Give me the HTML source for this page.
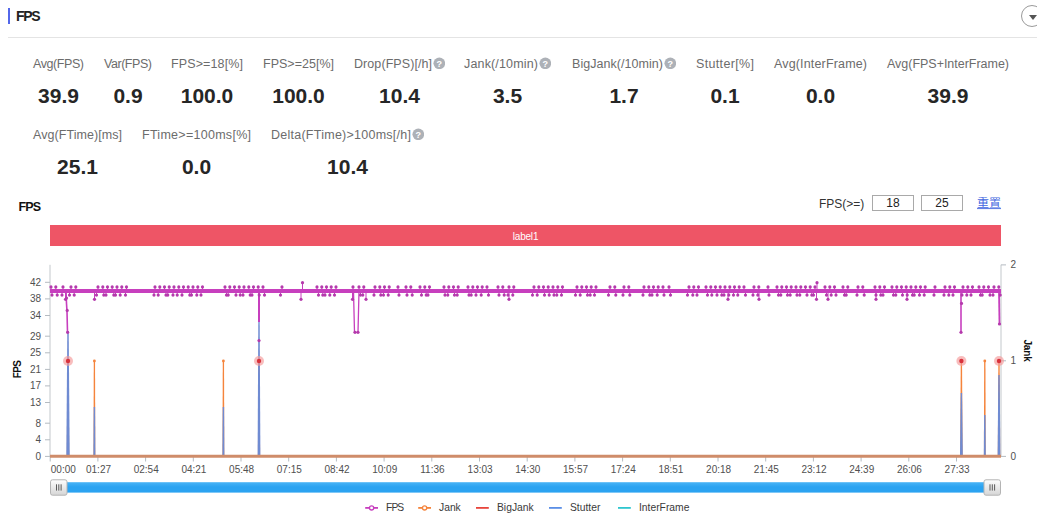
<!DOCTYPE html>
<html lang="zh-CN">
<head>
<meta charset="utf-8">
<title>FPS</title>
<style>
html,body{margin:0;padding:0;background:#fff;}
body{width:1037px;height:515px;position:relative;overflow:hidden;
 font-family:"Liberation Sans","Noto Sans CJK SC",sans-serif;color:#333;}
.bar{position:absolute;left:8px;top:8px;width:2px;height:16px;background:#5367ea;}
.h1{position:absolute;left:16px;top:7px;font-size:14px;font-weight:700;color:#222;line-height:18px;letter-spacing:-1.3px;}
.hr{position:absolute;left:8px;top:37px;width:1029px;height:1px;background:#e4e4e4;}
.btn{position:absolute;left:1021px;top:5px;width:20px;height:20px;border:1px solid #9a9a9a;border-radius:50%;background:#fff;box-sizing:content-box;}
.btn:after{content:"";position:absolute;left:6.5px;top:8.5px;border-left:4px solid transparent;border-right:4px solid transparent;border-top:5px solid #555;}
.lb{position:absolute;font-size:12.5px;line-height:18px;color:#6c6c6c;white-space:nowrap;}
.qi{position:absolute;width:12px;height:12px;line-height:0;}
.vl{position:absolute;font-size:21px;line-height:26px;font-weight:700;color:#262626;text-align:center;white-space:nowrap;}
.ct{position:absolute;left:18.6px;top:198.8px;font-size:12.5px;line-height:16px;font-weight:700;color:#111;letter-spacing:-0.9px;}
.th{position:absolute;left:819px;top:196px;font-size:12px;line-height:16px;color:#333;}
.in{position:absolute;top:195px;width:40px;height:14px;border:1px solid #a9a9a9;font-size:12px;line-height:15.6px;text-align:center;color:#222;background:#fff;overflow:hidden;}
.rs{position:absolute;left:977px;top:195px;font-size:12px;line-height:16px;color:#4468e0;text-decoration:underline;transform:scaleY(0.9);transform-origin:0 92%;}
.lab{position:absolute;left:50px;top:225px;width:951px;height:21px;background:#ee5566;color:#fff;font-size:10px;line-height:23.6px;letter-spacing:-0.2px;text-align:center;overflow:hidden;}
svg.chart{position:absolute;left:0;top:0;}
.ax{font-size:10px;fill:#505050;font-family:"Liberation Sans",sans-serif;}
.lg{font-size:10.3px;fill:#3a3a3a;font-family:"Liberation Sans",sans-serif;}
.ttl{font-size:10px;font-weight:700;fill:#111;font-family:"Liberation Sans",sans-serif;}
</style>
</head>
<body>
<div class="bar"></div>
<div class="h1">FPS</div>
<div class="btn"></div>
<div class="hr"></div>
<div class="lb" style="left:33px;top:55px;letter-spacing:-0.422px">Avg(FPS)</div>
<div class="vl" style="left:33px;width:51px;top:83px">39.9</div>
<div class="lb" style="left:104px;top:55px;letter-spacing:-0.453px">Var(FPS)</div>
<div class="vl" style="left:104px;width:48px;top:83px">0.9</div>
<div class="lb" style="left:171px;top:55px;letter-spacing:0.125px">FPS&gt;=18[%]</div>
<div class="vl" style="left:171px;width:72px;top:83px">100.0</div>
<div class="lb" style="left:263px;top:55px;letter-spacing:0.014px">FPS&gt;=25[%]</div>
<div class="vl" style="left:263px;width:71px;top:83px">100.0</div>
<div class="lb" style="left:354px;top:55px;letter-spacing:0.074px">Drop(FPS)[/h]</div>
<div class="qi" style="left:432.8px;top:56.8px"><svg class="q" viewBox="0 0 14 14" width="12.6" height="12.6"><circle cx="7" cy="7" r="6.5" fill="#adb1b7"/><text x="7" y="10.6" text-anchor="middle" font-size="10" font-weight="700" fill="#fff" font-family="Liberation Sans, sans-serif">?</text></svg></div>
<div class="vl" style="left:354px;width:91px;top:83px">10.4</div>
<div class="lb" style="left:464px;top:55px;letter-spacing:0.159px">Jank(/10min)</div>
<div class="qi" style="left:538.8px;top:56.8px"><svg class="q" viewBox="0 0 14 14" width="12.6" height="12.6"><circle cx="7" cy="7" r="6.5" fill="#adb1b7"/><text x="7" y="10.6" text-anchor="middle" font-size="10" font-weight="700" fill="#fff" font-family="Liberation Sans, sans-serif">?</text></svg></div>
<div class="vl" style="left:464px;width:87px;top:83px">3.5</div>
<div class="lb" style="left:572px;top:55px;letter-spacing:0.048px">BigJank(/10min)</div>
<div class="qi" style="left:663.8px;top:56.8px"><svg class="q" viewBox="0 0 14 14" width="12.6" height="12.6"><circle cx="7" cy="7" r="6.5" fill="#adb1b7"/><text x="7" y="10.6" text-anchor="middle" font-size="10" font-weight="700" fill="#fff" font-family="Liberation Sans, sans-serif">?</text></svg></div>
<div class="vl" style="left:572px;width:104px;top:83px">1.7</div>
<div class="lb" style="left:696px;top:55px;letter-spacing:0.345px">Stutter[%]</div>
<div class="vl" style="left:696px;width:58px;top:83px">0.1</div>
<div class="lb" style="left:774px;top:55px;letter-spacing:0.16px">Avg(InterFrame)</div>
<div class="vl" style="left:774px;width:93px;top:83px">0.0</div>
<div class="lb" style="left:887px;top:55px;letter-spacing:-0.022px">Avg(FPS+InterFrame)</div>
<div class="vl" style="left:887px;width:122px;top:83px">39.9</div>
<div class="lb" style="left:33px;top:126px;letter-spacing:0.061px">Avg(FTime)[ms]</div>
<div class="vl" style="left:33px;width:89px;top:154px">25.1</div>
<div class="lb" style="left:142px;top:126px;letter-spacing:0.276px">FTime&gt;=100ms[%]</div>
<div class="vl" style="left:142px;width:109px;top:154px">0.0</div>
<div class="lb" style="left:271px;top:126px;letter-spacing:0.254px">Delta(FTime)&gt;100ms[/h]</div>
<div class="qi" style="left:411.8px;top:127.8px"><svg class="q" viewBox="0 0 14 14" width="12.6" height="12.6"><circle cx="7" cy="7" r="6.5" fill="#adb1b7"/><text x="7" y="10.6" text-anchor="middle" font-size="10" font-weight="700" fill="#fff" font-family="Liberation Sans, sans-serif">?</text></svg></div>
<div class="vl" style="left:271px;width:153px;top:154px">10.4</div>
<div class="ct">FPS</div>
<div class="th">FPS(&gt;=)</div>
<div class="in" style="left:872px">18</div>
<div class="in" style="left:921px">25</div>
<div class="rs">重置</div>
<div class="lab">label1</div>
<svg class="chart" width="1037" height="515" viewBox="0 0 1037 515">
<defs><linearGradient id="sg" x1="0" y1="0" x2="0" y2="1"><stop offset="0" stop-color="#4ab4f6"/><stop offset="0.45" stop-color="#2ba3f1"/><stop offset="1" stop-color="#2ba3f1"/></linearGradient><linearGradient id="gg" x1="0" y1="0" x2="0" y2="1"><stop offset="0" stop-color="#fdfdfd"/><stop offset="1" stop-color="#d6d6d6"/></linearGradient></defs>
<line x1="50.0" y1="264.8" x2="50.0" y2="456.5" stroke="#c3c8cc" stroke-width="1"/>
<line x1="1001.0" y1="264.8" x2="1001.0" y2="456.5" stroke="#c3c8cc" stroke-width="1"/>
<line x1="50.0" y1="456.5" x2="1001.0" y2="456.5" stroke="#c3c8cc" stroke-width="1"/>
<line x1="45.0" y1="282.3" x2="50.0" y2="282.3" stroke="#b4bbc1" stroke-width="1"/>
<text x="41" y="285.7" text-anchor="end" class="ax">42</text>
<line x1="45.0" y1="298.9" x2="50.0" y2="298.9" stroke="#b4bbc1" stroke-width="1"/>
<text x="41" y="302.3" text-anchor="end" class="ax">38</text>
<line x1="45.0" y1="315.5" x2="50.0" y2="315.5" stroke="#b4bbc1" stroke-width="1"/>
<text x="41" y="318.9" text-anchor="end" class="ax">34</text>
<line x1="45.0" y1="336.2" x2="50.0" y2="336.2" stroke="#b4bbc1" stroke-width="1"/>
<text x="41" y="339.6" text-anchor="end" class="ax">29</text>
<line x1="45.0" y1="352.8" x2="50.0" y2="352.8" stroke="#b4bbc1" stroke-width="1"/>
<text x="41" y="356.2" text-anchor="end" class="ax">25</text>
<line x1="45.0" y1="369.4" x2="50.0" y2="369.4" stroke="#b4bbc1" stroke-width="1"/>
<text x="41" y="372.8" text-anchor="end" class="ax">21</text>
<line x1="45.0" y1="385.9" x2="50.0" y2="385.9" stroke="#b4bbc1" stroke-width="1"/>
<text x="41" y="389.3" text-anchor="end" class="ax">17</text>
<line x1="45.0" y1="402.5" x2="50.0" y2="402.5" stroke="#b4bbc1" stroke-width="1"/>
<text x="41" y="405.9" text-anchor="end" class="ax">13</text>
<line x1="45.0" y1="423.2" x2="50.0" y2="423.2" stroke="#b4bbc1" stroke-width="1"/>
<text x="41" y="426.6" text-anchor="end" class="ax">8</text>
<line x1="45.0" y1="439.8" x2="50.0" y2="439.8" stroke="#b4bbc1" stroke-width="1"/>
<text x="41" y="443.2" text-anchor="end" class="ax">4</text>
<line x1="45.0" y1="456.4" x2="50.0" y2="456.4" stroke="#b4bbc1" stroke-width="1"/>
<text x="41" y="459.8" text-anchor="end" class="ax">0</text>
<line x1="1001.0" y1="264.9" x2="1006.0" y2="264.9" stroke="#b4bbc1" stroke-width="1"/>
<text x="1010.5" y="268.3" class="ax">2</text>
<line x1="1001.0" y1="360.79999999999995" x2="1006.0" y2="360.79999999999995" stroke="#b4bbc1" stroke-width="1"/>
<text x="1010.5" y="364.2" class="ax">1</text>
<line x1="1001.0" y1="456.4" x2="1006.0" y2="456.4" stroke="#b4bbc1" stroke-width="1"/>
<text x="1010.5" y="459.8" class="ax">0</text>
<line x1="50.2" y1="456.5" x2="50.2" y2="461.5" stroke="#b4bbc1" stroke-width="1"/>
<text x="50.8" y="473.0" class="ax">00:00</text>
<line x1="97.9" y1="456.5" x2="97.9" y2="461.5" stroke="#b4bbc1" stroke-width="1"/>
<text x="98.5" y="473.0" text-anchor="middle" class="ax">01:27</text>
<line x1="145.6" y1="456.5" x2="145.6" y2="461.5" stroke="#b4bbc1" stroke-width="1"/>
<text x="146.2" y="473.0" text-anchor="middle" class="ax">02:54</text>
<line x1="193.3" y1="456.5" x2="193.3" y2="461.5" stroke="#b4bbc1" stroke-width="1"/>
<text x="193.9" y="473.0" text-anchor="middle" class="ax">04:21</text>
<line x1="241.0" y1="456.5" x2="241.0" y2="461.5" stroke="#b4bbc1" stroke-width="1"/>
<text x="241.6" y="473.0" text-anchor="middle" class="ax">05:48</text>
<line x1="288.7" y1="456.5" x2="288.7" y2="461.5" stroke="#b4bbc1" stroke-width="1"/>
<text x="289.3" y="473.0" text-anchor="middle" class="ax">07:15</text>
<line x1="336.4" y1="456.5" x2="336.4" y2="461.5" stroke="#b4bbc1" stroke-width="1"/>
<text x="337.0" y="473.0" text-anchor="middle" class="ax">08:42</text>
<line x1="384.1" y1="456.5" x2="384.1" y2="461.5" stroke="#b4bbc1" stroke-width="1"/>
<text x="384.7" y="473.0" text-anchor="middle" class="ax">10:09</text>
<line x1="431.8" y1="456.5" x2="431.8" y2="461.5" stroke="#b4bbc1" stroke-width="1"/>
<text x="432.4" y="473.0" text-anchor="middle" class="ax">11:36</text>
<line x1="479.5" y1="456.5" x2="479.5" y2="461.5" stroke="#b4bbc1" stroke-width="1"/>
<text x="480.1" y="473.0" text-anchor="middle" class="ax">13:03</text>
<line x1="527.2" y1="456.5" x2="527.2" y2="461.5" stroke="#b4bbc1" stroke-width="1"/>
<text x="527.8" y="473.0" text-anchor="middle" class="ax">14:30</text>
<line x1="574.9" y1="456.5" x2="574.9" y2="461.5" stroke="#b4bbc1" stroke-width="1"/>
<text x="575.5" y="473.0" text-anchor="middle" class="ax">15:57</text>
<line x1="622.6" y1="456.5" x2="622.6" y2="461.5" stroke="#b4bbc1" stroke-width="1"/>
<text x="623.2" y="473.0" text-anchor="middle" class="ax">17:24</text>
<line x1="670.3" y1="456.5" x2="670.3" y2="461.5" stroke="#b4bbc1" stroke-width="1"/>
<text x="670.9" y="473.0" text-anchor="middle" class="ax">18:51</text>
<line x1="718.0" y1="456.5" x2="718.0" y2="461.5" stroke="#b4bbc1" stroke-width="1"/>
<text x="718.6" y="473.0" text-anchor="middle" class="ax">20:18</text>
<line x1="765.7" y1="456.5" x2="765.7" y2="461.5" stroke="#b4bbc1" stroke-width="1"/>
<text x="766.3" y="473.0" text-anchor="middle" class="ax">21:45</text>
<line x1="813.4" y1="456.5" x2="813.4" y2="461.5" stroke="#b4bbc1" stroke-width="1"/>
<text x="814.0" y="473.0" text-anchor="middle" class="ax">23:12</text>
<line x1="861.1" y1="456.5" x2="861.1" y2="461.5" stroke="#b4bbc1" stroke-width="1"/>
<text x="861.7" y="473.0" text-anchor="middle" class="ax">24:39</text>
<line x1="908.8" y1="456.5" x2="908.8" y2="461.5" stroke="#b4bbc1" stroke-width="1"/>
<text x="909.4" y="473.0" text-anchor="middle" class="ax">26:06</text>
<line x1="956.5" y1="456.5" x2="956.5" y2="461.5" stroke="#b4bbc1" stroke-width="1"/>
<text x="957.1" y="473.0" text-anchor="middle" class="ax">27:33</text>
<text transform="translate(21,369.5) rotate(-90)" text-anchor="middle" class="ttl" letter-spacing="-0.6">FPS</text>
<text transform="translate(1024,350.5) rotate(90)" text-anchor="middle" class="ttl" letter-spacing="-0.2">Jank</text>
<polygon points="67.35,361.0 68.65,361.0 69.20,456.0 66.80,456.0" fill="#f5843c"/>
<polygon points="93.75,361.0 95.05,361.0 95.30,456.0 93.50,456.0" fill="#f5843c"/>
<polygon points="222.75,361.0 224.05,361.0 224.30,456.0 222.50,456.0" fill="#f5843c"/>
<polygon points="258.35,361.0 259.65,361.0 260.10,456.0 257.90,456.0" fill="#f5843c"/>
<polygon points="960.75,361.0 962.05,361.0 962.60,456.0 960.20,456.0" fill="#f5843c"/>
<polygon points="984.15,361.0 985.45,361.0 985.70,456.0 983.90,456.0" fill="#f5843c"/>
<polygon points="998.35,361.0 999.65,361.0 1000.20,456.0 997.80,456.0" fill="#f5843c"/>
<polygon points="67.30,331 68.70,331 69.70,456.0 66.30,456.0" fill="#6f8bd2"/>
<polygon points="93.70,407 95.10,407 95.40,456.0 93.40,456.0" fill="#6f8bd2"/>
<polygon points="222.70,407 224.10,407 224.40,456.0 222.40,456.0" fill="#6f8bd2"/>
<polygon points="258.30,322 259.70,322 260.40,456.0 257.60,456.0" fill="#6f8bd2"/>
<polygon points="960.70,393 962.10,393 962.80,456.0 960.00,456.0" fill="#6f8bd2"/>
<polygon points="984.10,415 985.50,415 985.80,456.0 983.80,456.0" fill="#6f8bd2"/>
<polygon points="998.30,375 999.70,375 1000.40,456.0 997.60,456.0" fill="#6f8bd2"/>
<line x1="50.0" y1="456.2" x2="1001.0" y2="456.2" stroke="#cf8c6a" stroke-width="3"/>
<line x1="50.0" y1="291.0" x2="1001.0" y2="291.0" stroke="#c73fbe" stroke-width="4.2"/>
<line x1="51.0" y1="291.0" x2="51.0" y2="286.9" stroke="#c73fbe" stroke-width="1"/>
<line x1="52.0" y1="291.0" x2="52.0" y2="295.1" stroke="#c73fbe" stroke-width="1"/>
<line x1="55.8" y1="291.0" x2="55.8" y2="286.9" stroke="#c73fbe" stroke-width="1"/>
<line x1="57.2" y1="291.0" x2="57.2" y2="295.1" stroke="#c73fbe" stroke-width="1"/>
<line x1="63.0" y1="291.0" x2="63.0" y2="286.9" stroke="#c73fbe" stroke-width="1"/>
<line x1="62.0" y1="291.0" x2="62.0" y2="295.1" stroke="#c73fbe" stroke-width="1"/>
<line x1="71.0" y1="291.0" x2="71.0" y2="286.9" stroke="#c73fbe" stroke-width="1"/>
<line x1="69.5" y1="291.0" x2="69.5" y2="295.1" stroke="#c73fbe" stroke-width="1"/>
<line x1="75.8" y1="291.0" x2="75.8" y2="286.9" stroke="#c73fbe" stroke-width="1"/>
<line x1="74.2" y1="291.0" x2="74.2" y2="295.1" stroke="#c73fbe" stroke-width="1"/>
<line x1="98.0" y1="291.0" x2="98.0" y2="286.9" stroke="#c73fbe" stroke-width="1"/>
<line x1="96.5" y1="291.0" x2="96.5" y2="295.1" stroke="#c73fbe" stroke-width="1"/>
<line x1="102.8" y1="291.0" x2="102.8" y2="286.9" stroke="#c73fbe" stroke-width="1"/>
<line x1="103.8" y1="291.0" x2="103.8" y2="295.1" stroke="#c73fbe" stroke-width="1"/>
<line x1="107.5" y1="291.0" x2="107.5" y2="286.9" stroke="#c73fbe" stroke-width="1"/>
<line x1="106.0" y1="291.0" x2="106.0" y2="295.1" stroke="#c73fbe" stroke-width="1"/>
<line x1="112.2" y1="291.0" x2="112.2" y2="286.9" stroke="#c73fbe" stroke-width="1"/>
<line x1="113.8" y1="291.0" x2="113.8" y2="295.1" stroke="#c73fbe" stroke-width="1"/>
<line x1="117.0" y1="291.0" x2="117.0" y2="286.9" stroke="#c73fbe" stroke-width="1"/>
<line x1="115.5" y1="291.0" x2="115.5" y2="295.1" stroke="#c73fbe" stroke-width="1"/>
<line x1="121.8" y1="291.0" x2="121.8" y2="286.9" stroke="#c73fbe" stroke-width="1"/>
<line x1="120.2" y1="291.0" x2="120.2" y2="295.1" stroke="#c73fbe" stroke-width="1"/>
<line x1="126.5" y1="291.0" x2="126.5" y2="286.9" stroke="#c73fbe" stroke-width="1"/>
<line x1="125.5" y1="291.0" x2="125.5" y2="295.1" stroke="#c73fbe" stroke-width="1"/>
<line x1="155.0" y1="291.0" x2="155.0" y2="286.9" stroke="#c73fbe" stroke-width="1"/>
<line x1="154.0" y1="291.0" x2="154.0" y2="295.1" stroke="#c73fbe" stroke-width="1"/>
<line x1="159.8" y1="291.0" x2="159.8" y2="286.9" stroke="#c73fbe" stroke-width="1"/>
<line x1="158.2" y1="291.0" x2="158.2" y2="295.1" stroke="#c73fbe" stroke-width="1"/>
<line x1="164.5" y1="291.0" x2="164.5" y2="286.9" stroke="#c73fbe" stroke-width="1"/>
<line x1="166.0" y1="291.0" x2="166.0" y2="295.1" stroke="#c73fbe" stroke-width="1"/>
<line x1="169.2" y1="291.0" x2="169.2" y2="286.9" stroke="#c73fbe" stroke-width="1"/>
<line x1="167.8" y1="291.0" x2="167.8" y2="295.1" stroke="#c73fbe" stroke-width="1"/>
<line x1="174.0" y1="291.0" x2="174.0" y2="286.9" stroke="#c73fbe" stroke-width="1"/>
<line x1="173.0" y1="291.0" x2="173.0" y2="295.1" stroke="#c73fbe" stroke-width="1"/>
<line x1="178.8" y1="291.0" x2="178.8" y2="286.9" stroke="#c73fbe" stroke-width="1"/>
<line x1="177.2" y1="291.0" x2="177.2" y2="295.1" stroke="#c73fbe" stroke-width="1"/>
<line x1="183.5" y1="291.0" x2="183.5" y2="286.9" stroke="#c73fbe" stroke-width="1"/>
<line x1="182.0" y1="291.0" x2="182.0" y2="295.1" stroke="#c73fbe" stroke-width="1"/>
<line x1="188.2" y1="291.0" x2="188.2" y2="286.9" stroke="#c73fbe" stroke-width="1"/>
<line x1="189.8" y1="291.0" x2="189.8" y2="295.1" stroke="#c73fbe" stroke-width="1"/>
<line x1="193.0" y1="291.0" x2="193.0" y2="286.9" stroke="#c73fbe" stroke-width="1"/>
<line x1="191.5" y1="291.0" x2="191.5" y2="295.1" stroke="#c73fbe" stroke-width="1"/>
<line x1="197.8" y1="291.0" x2="197.8" y2="286.9" stroke="#c73fbe" stroke-width="1"/>
<line x1="196.8" y1="291.0" x2="196.8" y2="295.1" stroke="#c73fbe" stroke-width="1"/>
<line x1="202.5" y1="291.0" x2="202.5" y2="286.9" stroke="#c73fbe" stroke-width="1"/>
<line x1="201.0" y1="291.0" x2="201.0" y2="295.1" stroke="#c73fbe" stroke-width="1"/>
<line x1="225.0" y1="291.0" x2="225.0" y2="286.9" stroke="#c73fbe" stroke-width="1"/>
<line x1="226.5" y1="291.0" x2="226.5" y2="295.1" stroke="#c73fbe" stroke-width="1"/>
<line x1="229.8" y1="291.0" x2="229.8" y2="286.9" stroke="#c73fbe" stroke-width="1"/>
<line x1="228.2" y1="291.0" x2="228.2" y2="295.1" stroke="#c73fbe" stroke-width="1"/>
<line x1="234.5" y1="291.0" x2="234.5" y2="286.9" stroke="#c73fbe" stroke-width="1"/>
<line x1="236.0" y1="291.0" x2="236.0" y2="295.1" stroke="#c73fbe" stroke-width="1"/>
<line x1="239.2" y1="291.0" x2="239.2" y2="286.9" stroke="#c73fbe" stroke-width="1"/>
<line x1="240.2" y1="291.0" x2="240.2" y2="295.1" stroke="#c73fbe" stroke-width="1"/>
<line x1="244.0" y1="291.0" x2="244.0" y2="286.9" stroke="#c73fbe" stroke-width="1"/>
<line x1="243.0" y1="291.0" x2="243.0" y2="295.1" stroke="#c73fbe" stroke-width="1"/>
<line x1="248.8" y1="291.0" x2="248.8" y2="286.9" stroke="#c73fbe" stroke-width="1"/>
<line x1="250.2" y1="291.0" x2="250.2" y2="295.1" stroke="#c73fbe" stroke-width="1"/>
<line x1="253.5" y1="291.0" x2="253.5" y2="286.9" stroke="#c73fbe" stroke-width="1"/>
<line x1="252.0" y1="291.0" x2="252.0" y2="295.1" stroke="#c73fbe" stroke-width="1"/>
<line x1="258.2" y1="291.0" x2="258.2" y2="286.9" stroke="#c73fbe" stroke-width="1"/>
<line x1="259.2" y1="291.0" x2="259.2" y2="295.1" stroke="#c73fbe" stroke-width="1"/>
<line x1="263.0" y1="291.0" x2="263.0" y2="286.9" stroke="#c73fbe" stroke-width="1"/>
<line x1="264.5" y1="291.0" x2="264.5" y2="295.1" stroke="#c73fbe" stroke-width="1"/>
<line x1="282.0" y1="291.0" x2="282.0" y2="286.9" stroke="#c73fbe" stroke-width="1"/>
<line x1="280.5" y1="291.0" x2="280.5" y2="295.1" stroke="#c73fbe" stroke-width="1"/>
<line x1="317.0" y1="291.0" x2="317.0" y2="286.9" stroke="#c73fbe" stroke-width="1"/>
<line x1="318.5" y1="291.0" x2="318.5" y2="295.1" stroke="#c73fbe" stroke-width="1"/>
<line x1="321.8" y1="291.0" x2="321.8" y2="286.9" stroke="#c73fbe" stroke-width="1"/>
<line x1="322.8" y1="291.0" x2="322.8" y2="295.1" stroke="#c73fbe" stroke-width="1"/>
<line x1="326.5" y1="291.0" x2="326.5" y2="286.9" stroke="#c73fbe" stroke-width="1"/>
<line x1="325.0" y1="291.0" x2="325.0" y2="295.1" stroke="#c73fbe" stroke-width="1"/>
<line x1="331.2" y1="291.0" x2="331.2" y2="286.9" stroke="#c73fbe" stroke-width="1"/>
<line x1="329.8" y1="291.0" x2="329.8" y2="295.1" stroke="#c73fbe" stroke-width="1"/>
<line x1="336.0" y1="291.0" x2="336.0" y2="286.9" stroke="#c73fbe" stroke-width="1"/>
<line x1="334.5" y1="291.0" x2="334.5" y2="295.1" stroke="#c73fbe" stroke-width="1"/>
<line x1="359.0" y1="291.0" x2="359.0" y2="286.9" stroke="#c73fbe" stroke-width="1"/>
<line x1="360.5" y1="291.0" x2="360.5" y2="295.1" stroke="#c73fbe" stroke-width="1"/>
<line x1="363.8" y1="291.0" x2="363.8" y2="286.9" stroke="#c73fbe" stroke-width="1"/>
<line x1="362.8" y1="291.0" x2="362.8" y2="295.1" stroke="#c73fbe" stroke-width="1"/>
<line x1="375.0" y1="291.0" x2="375.0" y2="286.9" stroke="#c73fbe" stroke-width="1"/>
<line x1="374.0" y1="291.0" x2="374.0" y2="295.1" stroke="#c73fbe" stroke-width="1"/>
<line x1="379.8" y1="291.0" x2="379.8" y2="286.9" stroke="#c73fbe" stroke-width="1"/>
<line x1="380.8" y1="291.0" x2="380.8" y2="295.1" stroke="#c73fbe" stroke-width="1"/>
<line x1="384.5" y1="291.0" x2="384.5" y2="286.9" stroke="#c73fbe" stroke-width="1"/>
<line x1="383.5" y1="291.0" x2="383.5" y2="295.1" stroke="#c73fbe" stroke-width="1"/>
<line x1="389.2" y1="291.0" x2="389.2" y2="286.9" stroke="#c73fbe" stroke-width="1"/>
<line x1="388.2" y1="291.0" x2="388.2" y2="295.1" stroke="#c73fbe" stroke-width="1"/>
<line x1="398.0" y1="291.0" x2="398.0" y2="286.9" stroke="#c73fbe" stroke-width="1"/>
<line x1="399.0" y1="291.0" x2="399.0" y2="295.1" stroke="#c73fbe" stroke-width="1"/>
<line x1="406.0" y1="291.0" x2="406.0" y2="286.9" stroke="#c73fbe" stroke-width="1"/>
<line x1="407.0" y1="291.0" x2="407.0" y2="295.1" stroke="#c73fbe" stroke-width="1"/>
<line x1="410.8" y1="291.0" x2="410.8" y2="286.9" stroke="#c73fbe" stroke-width="1"/>
<line x1="412.2" y1="291.0" x2="412.2" y2="295.1" stroke="#c73fbe" stroke-width="1"/>
<line x1="420.0" y1="291.0" x2="420.0" y2="286.9" stroke="#c73fbe" stroke-width="1"/>
<line x1="421.5" y1="291.0" x2="421.5" y2="295.1" stroke="#c73fbe" stroke-width="1"/>
<line x1="424.8" y1="291.0" x2="424.8" y2="286.9" stroke="#c73fbe" stroke-width="1"/>
<line x1="426.2" y1="291.0" x2="426.2" y2="295.1" stroke="#c73fbe" stroke-width="1"/>
<line x1="429.5" y1="291.0" x2="429.5" y2="286.9" stroke="#c73fbe" stroke-width="1"/>
<line x1="428.0" y1="291.0" x2="428.0" y2="295.1" stroke="#c73fbe" stroke-width="1"/>
<line x1="444.0" y1="291.0" x2="444.0" y2="286.9" stroke="#c73fbe" stroke-width="1"/>
<line x1="445.0" y1="291.0" x2="445.0" y2="295.1" stroke="#c73fbe" stroke-width="1"/>
<line x1="448.8" y1="291.0" x2="448.8" y2="286.9" stroke="#c73fbe" stroke-width="1"/>
<line x1="447.8" y1="291.0" x2="447.8" y2="295.1" stroke="#c73fbe" stroke-width="1"/>
<line x1="453.5" y1="291.0" x2="453.5" y2="286.9" stroke="#c73fbe" stroke-width="1"/>
<line x1="454.5" y1="291.0" x2="454.5" y2="295.1" stroke="#c73fbe" stroke-width="1"/>
<line x1="458.2" y1="291.0" x2="458.2" y2="286.9" stroke="#c73fbe" stroke-width="1"/>
<line x1="457.2" y1="291.0" x2="457.2" y2="295.1" stroke="#c73fbe" stroke-width="1"/>
<line x1="468.0" y1="291.0" x2="468.0" y2="286.9" stroke="#c73fbe" stroke-width="1"/>
<line x1="469.0" y1="291.0" x2="469.0" y2="295.1" stroke="#c73fbe" stroke-width="1"/>
<line x1="472.8" y1="291.0" x2="472.8" y2="286.9" stroke="#c73fbe" stroke-width="1"/>
<line x1="471.2" y1="291.0" x2="471.2" y2="295.1" stroke="#c73fbe" stroke-width="1"/>
<line x1="477.5" y1="291.0" x2="477.5" y2="286.9" stroke="#c73fbe" stroke-width="1"/>
<line x1="476.0" y1="291.0" x2="476.0" y2="295.1" stroke="#c73fbe" stroke-width="1"/>
<line x1="482.2" y1="291.0" x2="482.2" y2="286.9" stroke="#c73fbe" stroke-width="1"/>
<line x1="481.2" y1="291.0" x2="481.2" y2="295.1" stroke="#c73fbe" stroke-width="1"/>
<line x1="487.0" y1="291.0" x2="487.0" y2="286.9" stroke="#c73fbe" stroke-width="1"/>
<line x1="488.5" y1="291.0" x2="488.5" y2="295.1" stroke="#c73fbe" stroke-width="1"/>
<line x1="498.0" y1="291.0" x2="498.0" y2="286.9" stroke="#c73fbe" stroke-width="1"/>
<line x1="499.0" y1="291.0" x2="499.0" y2="295.1" stroke="#c73fbe" stroke-width="1"/>
<line x1="502.8" y1="291.0" x2="502.8" y2="286.9" stroke="#c73fbe" stroke-width="1"/>
<line x1="504.2" y1="291.0" x2="504.2" y2="295.1" stroke="#c73fbe" stroke-width="1"/>
<line x1="509.0" y1="291.0" x2="509.0" y2="286.9" stroke="#c73fbe" stroke-width="1"/>
<line x1="508.0" y1="291.0" x2="508.0" y2="295.1" stroke="#c73fbe" stroke-width="1"/>
<line x1="513.8" y1="291.0" x2="513.8" y2="286.9" stroke="#c73fbe" stroke-width="1"/>
<line x1="512.8" y1="291.0" x2="512.8" y2="295.1" stroke="#c73fbe" stroke-width="1"/>
<line x1="534.0" y1="291.0" x2="534.0" y2="286.9" stroke="#c73fbe" stroke-width="1"/>
<line x1="532.5" y1="291.0" x2="532.5" y2="295.1" stroke="#c73fbe" stroke-width="1"/>
<line x1="538.8" y1="291.0" x2="538.8" y2="286.9" stroke="#c73fbe" stroke-width="1"/>
<line x1="537.2" y1="291.0" x2="537.2" y2="295.1" stroke="#c73fbe" stroke-width="1"/>
<line x1="543.5" y1="291.0" x2="543.5" y2="286.9" stroke="#c73fbe" stroke-width="1"/>
<line x1="544.5" y1="291.0" x2="544.5" y2="295.1" stroke="#c73fbe" stroke-width="1"/>
<line x1="548.2" y1="291.0" x2="548.2" y2="286.9" stroke="#c73fbe" stroke-width="1"/>
<line x1="549.2" y1="291.0" x2="549.2" y2="295.1" stroke="#c73fbe" stroke-width="1"/>
<line x1="553.0" y1="291.0" x2="553.0" y2="286.9" stroke="#c73fbe" stroke-width="1"/>
<line x1="554.0" y1="291.0" x2="554.0" y2="295.1" stroke="#c73fbe" stroke-width="1"/>
<line x1="557.8" y1="291.0" x2="557.8" y2="286.9" stroke="#c73fbe" stroke-width="1"/>
<line x1="556.8" y1="291.0" x2="556.8" y2="295.1" stroke="#c73fbe" stroke-width="1"/>
<line x1="562.5" y1="291.0" x2="562.5" y2="286.9" stroke="#c73fbe" stroke-width="1"/>
<line x1="561.5" y1="291.0" x2="561.5" y2="295.1" stroke="#c73fbe" stroke-width="1"/>
<line x1="577.0" y1="291.0" x2="577.0" y2="286.9" stroke="#c73fbe" stroke-width="1"/>
<line x1="575.5" y1="291.0" x2="575.5" y2="295.1" stroke="#c73fbe" stroke-width="1"/>
<line x1="581.8" y1="291.0" x2="581.8" y2="286.9" stroke="#c73fbe" stroke-width="1"/>
<line x1="580.2" y1="291.0" x2="580.2" y2="295.1" stroke="#c73fbe" stroke-width="1"/>
<line x1="586.5" y1="291.0" x2="586.5" y2="286.9" stroke="#c73fbe" stroke-width="1"/>
<line x1="587.5" y1="291.0" x2="587.5" y2="295.1" stroke="#c73fbe" stroke-width="1"/>
<line x1="591.2" y1="291.0" x2="591.2" y2="286.9" stroke="#c73fbe" stroke-width="1"/>
<line x1="590.2" y1="291.0" x2="590.2" y2="295.1" stroke="#c73fbe" stroke-width="1"/>
<line x1="596.0" y1="291.0" x2="596.0" y2="286.9" stroke="#c73fbe" stroke-width="1"/>
<line x1="594.5" y1="291.0" x2="594.5" y2="295.1" stroke="#c73fbe" stroke-width="1"/>
<line x1="610.0" y1="291.0" x2="610.0" y2="286.9" stroke="#c73fbe" stroke-width="1"/>
<line x1="608.5" y1="291.0" x2="608.5" y2="295.1" stroke="#c73fbe" stroke-width="1"/>
<line x1="614.8" y1="291.0" x2="614.8" y2="286.9" stroke="#c73fbe" stroke-width="1"/>
<line x1="615.8" y1="291.0" x2="615.8" y2="295.1" stroke="#c73fbe" stroke-width="1"/>
<line x1="624.0" y1="291.0" x2="624.0" y2="286.9" stroke="#c73fbe" stroke-width="1"/>
<line x1="623.0" y1="291.0" x2="623.0" y2="295.1" stroke="#c73fbe" stroke-width="1"/>
<line x1="628.8" y1="291.0" x2="628.8" y2="286.9" stroke="#c73fbe" stroke-width="1"/>
<line x1="629.8" y1="291.0" x2="629.8" y2="295.1" stroke="#c73fbe" stroke-width="1"/>
<line x1="644.0" y1="291.0" x2="644.0" y2="286.9" stroke="#c73fbe" stroke-width="1"/>
<line x1="643.0" y1="291.0" x2="643.0" y2="295.1" stroke="#c73fbe" stroke-width="1"/>
<line x1="648.8" y1="291.0" x2="648.8" y2="286.9" stroke="#c73fbe" stroke-width="1"/>
<line x1="649.8" y1="291.0" x2="649.8" y2="295.1" stroke="#c73fbe" stroke-width="1"/>
<line x1="653.5" y1="291.0" x2="653.5" y2="286.9" stroke="#c73fbe" stroke-width="1"/>
<line x1="652.0" y1="291.0" x2="652.0" y2="295.1" stroke="#c73fbe" stroke-width="1"/>
<line x1="658.2" y1="291.0" x2="658.2" y2="286.9" stroke="#c73fbe" stroke-width="1"/>
<line x1="657.2" y1="291.0" x2="657.2" y2="295.1" stroke="#c73fbe" stroke-width="1"/>
<line x1="663.0" y1="291.0" x2="663.0" y2="286.9" stroke="#c73fbe" stroke-width="1"/>
<line x1="664.0" y1="291.0" x2="664.0" y2="295.1" stroke="#c73fbe" stroke-width="1"/>
<line x1="669.0" y1="291.0" x2="669.0" y2="286.9" stroke="#c73fbe" stroke-width="1"/>
<line x1="670.5" y1="291.0" x2="670.5" y2="295.1" stroke="#c73fbe" stroke-width="1"/>
<line x1="689.0" y1="291.0" x2="689.0" y2="286.9" stroke="#c73fbe" stroke-width="1"/>
<line x1="687.5" y1="291.0" x2="687.5" y2="295.1" stroke="#c73fbe" stroke-width="1"/>
<line x1="693.8" y1="291.0" x2="693.8" y2="286.9" stroke="#c73fbe" stroke-width="1"/>
<line x1="692.8" y1="291.0" x2="692.8" y2="295.1" stroke="#c73fbe" stroke-width="1"/>
<line x1="698.5" y1="291.0" x2="698.5" y2="286.9" stroke="#c73fbe" stroke-width="1"/>
<line x1="697.0" y1="291.0" x2="697.0" y2="295.1" stroke="#c73fbe" stroke-width="1"/>
<line x1="706.0" y1="291.0" x2="706.0" y2="286.9" stroke="#c73fbe" stroke-width="1"/>
<line x1="707.5" y1="291.0" x2="707.5" y2="295.1" stroke="#c73fbe" stroke-width="1"/>
<line x1="710.8" y1="291.0" x2="710.8" y2="286.9" stroke="#c73fbe" stroke-width="1"/>
<line x1="711.8" y1="291.0" x2="711.8" y2="295.1" stroke="#c73fbe" stroke-width="1"/>
<line x1="715.5" y1="291.0" x2="715.5" y2="286.9" stroke="#c73fbe" stroke-width="1"/>
<line x1="717.0" y1="291.0" x2="717.0" y2="295.1" stroke="#c73fbe" stroke-width="1"/>
<line x1="720.2" y1="291.0" x2="720.2" y2="286.9" stroke="#c73fbe" stroke-width="1"/>
<line x1="721.8" y1="291.0" x2="721.8" y2="295.1" stroke="#c73fbe" stroke-width="1"/>
<line x1="725.0" y1="291.0" x2="725.0" y2="286.9" stroke="#c73fbe" stroke-width="1"/>
<line x1="724.0" y1="291.0" x2="724.0" y2="295.1" stroke="#c73fbe" stroke-width="1"/>
<line x1="729.8" y1="291.0" x2="729.8" y2="286.9" stroke="#c73fbe" stroke-width="1"/>
<line x1="728.8" y1="291.0" x2="728.8" y2="295.1" stroke="#c73fbe" stroke-width="1"/>
<line x1="734.5" y1="291.0" x2="734.5" y2="286.9" stroke="#c73fbe" stroke-width="1"/>
<line x1="733.5" y1="291.0" x2="733.5" y2="295.1" stroke="#c73fbe" stroke-width="1"/>
<line x1="739.2" y1="291.0" x2="739.2" y2="286.9" stroke="#c73fbe" stroke-width="1"/>
<line x1="737.8" y1="291.0" x2="737.8" y2="295.1" stroke="#c73fbe" stroke-width="1"/>
<line x1="744.0" y1="291.0" x2="744.0" y2="286.9" stroke="#c73fbe" stroke-width="1"/>
<line x1="745.5" y1="291.0" x2="745.5" y2="295.1" stroke="#c73fbe" stroke-width="1"/>
<line x1="754.0" y1="291.0" x2="754.0" y2="286.9" stroke="#c73fbe" stroke-width="1"/>
<line x1="753.0" y1="291.0" x2="753.0" y2="295.1" stroke="#c73fbe" stroke-width="1"/>
<line x1="758.8" y1="291.0" x2="758.8" y2="286.9" stroke="#c73fbe" stroke-width="1"/>
<line x1="757.8" y1="291.0" x2="757.8" y2="295.1" stroke="#c73fbe" stroke-width="1"/>
<line x1="768.0" y1="291.0" x2="768.0" y2="286.9" stroke="#c73fbe" stroke-width="1"/>
<line x1="769.0" y1="291.0" x2="769.0" y2="295.1" stroke="#c73fbe" stroke-width="1"/>
<line x1="777.0" y1="291.0" x2="777.0" y2="286.9" stroke="#c73fbe" stroke-width="1"/>
<line x1="778.5" y1="291.0" x2="778.5" y2="295.1" stroke="#c73fbe" stroke-width="1"/>
<line x1="781.8" y1="291.0" x2="781.8" y2="286.9" stroke="#c73fbe" stroke-width="1"/>
<line x1="780.8" y1="291.0" x2="780.8" y2="295.1" stroke="#c73fbe" stroke-width="1"/>
<line x1="786.5" y1="291.0" x2="786.5" y2="286.9" stroke="#c73fbe" stroke-width="1"/>
<line x1="787.5" y1="291.0" x2="787.5" y2="295.1" stroke="#c73fbe" stroke-width="1"/>
<line x1="791.2" y1="291.0" x2="791.2" y2="286.9" stroke="#c73fbe" stroke-width="1"/>
<line x1="790.2" y1="291.0" x2="790.2" y2="295.1" stroke="#c73fbe" stroke-width="1"/>
<line x1="796.0" y1="291.0" x2="796.0" y2="286.9" stroke="#c73fbe" stroke-width="1"/>
<line x1="797.0" y1="291.0" x2="797.0" y2="295.1" stroke="#c73fbe" stroke-width="1"/>
<line x1="800.8" y1="291.0" x2="800.8" y2="286.9" stroke="#c73fbe" stroke-width="1"/>
<line x1="799.8" y1="291.0" x2="799.8" y2="295.1" stroke="#c73fbe" stroke-width="1"/>
<line x1="805.5" y1="291.0" x2="805.5" y2="286.9" stroke="#c73fbe" stroke-width="1"/>
<line x1="807.0" y1="291.0" x2="807.0" y2="295.1" stroke="#c73fbe" stroke-width="1"/>
<line x1="810.2" y1="291.0" x2="810.2" y2="286.9" stroke="#c73fbe" stroke-width="1"/>
<line x1="811.8" y1="291.0" x2="811.8" y2="295.1" stroke="#c73fbe" stroke-width="1"/>
<line x1="815.0" y1="291.0" x2="815.0" y2="286.9" stroke="#c73fbe" stroke-width="1"/>
<line x1="813.5" y1="291.0" x2="813.5" y2="295.1" stroke="#c73fbe" stroke-width="1"/>
<line x1="825.0" y1="291.0" x2="825.0" y2="286.9" stroke="#c73fbe" stroke-width="1"/>
<line x1="826.5" y1="291.0" x2="826.5" y2="295.1" stroke="#c73fbe" stroke-width="1"/>
<line x1="829.8" y1="291.0" x2="829.8" y2="286.9" stroke="#c73fbe" stroke-width="1"/>
<line x1="831.2" y1="291.0" x2="831.2" y2="295.1" stroke="#c73fbe" stroke-width="1"/>
<line x1="834.5" y1="291.0" x2="834.5" y2="286.9" stroke="#c73fbe" stroke-width="1"/>
<line x1="836.0" y1="291.0" x2="836.0" y2="295.1" stroke="#c73fbe" stroke-width="1"/>
<line x1="843.0" y1="291.0" x2="843.0" y2="286.9" stroke="#c73fbe" stroke-width="1"/>
<line x1="844.5" y1="291.0" x2="844.5" y2="295.1" stroke="#c73fbe" stroke-width="1"/>
<line x1="847.8" y1="291.0" x2="847.8" y2="286.9" stroke="#c73fbe" stroke-width="1"/>
<line x1="846.2" y1="291.0" x2="846.2" y2="295.1" stroke="#c73fbe" stroke-width="1"/>
<line x1="858.0" y1="291.0" x2="858.0" y2="286.9" stroke="#c73fbe" stroke-width="1"/>
<line x1="857.0" y1="291.0" x2="857.0" y2="295.1" stroke="#c73fbe" stroke-width="1"/>
<line x1="862.8" y1="291.0" x2="862.8" y2="286.9" stroke="#c73fbe" stroke-width="1"/>
<line x1="864.2" y1="291.0" x2="864.2" y2="295.1" stroke="#c73fbe" stroke-width="1"/>
<line x1="875.0" y1="291.0" x2="875.0" y2="286.9" stroke="#c73fbe" stroke-width="1"/>
<line x1="876.0" y1="291.0" x2="876.0" y2="295.1" stroke="#c73fbe" stroke-width="1"/>
<line x1="879.8" y1="291.0" x2="879.8" y2="286.9" stroke="#c73fbe" stroke-width="1"/>
<line x1="880.8" y1="291.0" x2="880.8" y2="295.1" stroke="#c73fbe" stroke-width="1"/>
<line x1="884.5" y1="291.0" x2="884.5" y2="286.9" stroke="#c73fbe" stroke-width="1"/>
<line x1="883.0" y1="291.0" x2="883.0" y2="295.1" stroke="#c73fbe" stroke-width="1"/>
<line x1="892.0" y1="291.0" x2="892.0" y2="286.9" stroke="#c73fbe" stroke-width="1"/>
<line x1="893.5" y1="291.0" x2="893.5" y2="295.1" stroke="#c73fbe" stroke-width="1"/>
<line x1="896.8" y1="291.0" x2="896.8" y2="286.9" stroke="#c73fbe" stroke-width="1"/>
<line x1="895.8" y1="291.0" x2="895.8" y2="295.1" stroke="#c73fbe" stroke-width="1"/>
<line x1="901.5" y1="291.0" x2="901.5" y2="286.9" stroke="#c73fbe" stroke-width="1"/>
<line x1="902.5" y1="291.0" x2="902.5" y2="295.1" stroke="#c73fbe" stroke-width="1"/>
<line x1="906.2" y1="291.0" x2="906.2" y2="286.9" stroke="#c73fbe" stroke-width="1"/>
<line x1="907.2" y1="291.0" x2="907.2" y2="295.1" stroke="#c73fbe" stroke-width="1"/>
<line x1="911.0" y1="291.0" x2="911.0" y2="286.9" stroke="#c73fbe" stroke-width="1"/>
<line x1="912.5" y1="291.0" x2="912.5" y2="295.1" stroke="#c73fbe" stroke-width="1"/>
<line x1="915.8" y1="291.0" x2="915.8" y2="286.9" stroke="#c73fbe" stroke-width="1"/>
<line x1="914.2" y1="291.0" x2="914.2" y2="295.1" stroke="#c73fbe" stroke-width="1"/>
<line x1="920.5" y1="291.0" x2="920.5" y2="286.9" stroke="#c73fbe" stroke-width="1"/>
<line x1="919.5" y1="291.0" x2="919.5" y2="295.1" stroke="#c73fbe" stroke-width="1"/>
<line x1="925.2" y1="291.0" x2="925.2" y2="286.9" stroke="#c73fbe" stroke-width="1"/>
<line x1="924.2" y1="291.0" x2="924.2" y2="295.1" stroke="#c73fbe" stroke-width="1"/>
<line x1="935.0" y1="291.0" x2="935.0" y2="286.9" stroke="#c73fbe" stroke-width="1"/>
<line x1="934.0" y1="291.0" x2="934.0" y2="295.1" stroke="#c73fbe" stroke-width="1"/>
<line x1="945.0" y1="291.0" x2="945.0" y2="286.9" stroke="#c73fbe" stroke-width="1"/>
<line x1="944.0" y1="291.0" x2="944.0" y2="295.1" stroke="#c73fbe" stroke-width="1"/>
<line x1="949.8" y1="291.0" x2="949.8" y2="286.9" stroke="#c73fbe" stroke-width="1"/>
<line x1="948.8" y1="291.0" x2="948.8" y2="295.1" stroke="#c73fbe" stroke-width="1"/>
<line x1="954.5" y1="291.0" x2="954.5" y2="286.9" stroke="#c73fbe" stroke-width="1"/>
<line x1="953.0" y1="291.0" x2="953.0" y2="295.1" stroke="#c73fbe" stroke-width="1"/>
<line x1="963.0" y1="291.0" x2="963.0" y2="286.9" stroke="#c73fbe" stroke-width="1"/>
<line x1="962.0" y1="291.0" x2="962.0" y2="295.1" stroke="#c73fbe" stroke-width="1"/>
<line x1="967.8" y1="291.0" x2="967.8" y2="286.9" stroke="#c73fbe" stroke-width="1"/>
<line x1="966.8" y1="291.0" x2="966.8" y2="295.1" stroke="#c73fbe" stroke-width="1"/>
<line x1="972.5" y1="291.0" x2="972.5" y2="286.9" stroke="#c73fbe" stroke-width="1"/>
<line x1="971.0" y1="291.0" x2="971.0" y2="295.1" stroke="#c73fbe" stroke-width="1"/>
<line x1="979.0" y1="291.0" x2="979.0" y2="286.9" stroke="#c73fbe" stroke-width="1"/>
<line x1="980.5" y1="291.0" x2="980.5" y2="295.1" stroke="#c73fbe" stroke-width="1"/>
<line x1="983.8" y1="291.0" x2="983.8" y2="286.9" stroke="#c73fbe" stroke-width="1"/>
<line x1="982.2" y1="291.0" x2="982.2" y2="295.1" stroke="#c73fbe" stroke-width="1"/>
<line x1="988.5" y1="291.0" x2="988.5" y2="286.9" stroke="#c73fbe" stroke-width="1"/>
<line x1="990.0" y1="291.0" x2="990.0" y2="295.1" stroke="#c73fbe" stroke-width="1"/>
<line x1="994.0" y1="291.0" x2="994.0" y2="286.9" stroke="#c73fbe" stroke-width="1"/>
<line x1="993.0" y1="291.0" x2="993.0" y2="295.1" stroke="#c73fbe" stroke-width="1"/>
<line x1="998.8" y1="291.0" x2="998.8" y2="286.9" stroke="#c73fbe" stroke-width="1"/>
<line x1="1000.2" y1="291.0" x2="1000.2" y2="295.1" stroke="#c73fbe" stroke-width="1"/>
<line x1="65.5" y1="291.0" x2="65.5" y2="299.3" stroke="#c73fbe" stroke-width="1"/>
<line x1="94.5" y1="291.0" x2="94.5" y2="299.3" stroke="#c73fbe" stroke-width="1"/>
<line x1="301.0" y1="291.0" x2="301.0" y2="299.3" stroke="#c73fbe" stroke-width="1"/>
<line x1="352.5" y1="291.0" x2="352.5" y2="299.3" stroke="#c73fbe" stroke-width="1"/>
<line x1="366.0" y1="291.0" x2="366.0" y2="299.3" stroke="#c73fbe" stroke-width="1"/>
<line x1="509.0" y1="291.0" x2="509.0" y2="299.3" stroke="#c73fbe" stroke-width="1"/>
<line x1="728.0" y1="291.0" x2="728.0" y2="299.3" stroke="#c73fbe" stroke-width="1"/>
<line x1="759.0" y1="291.0" x2="759.0" y2="299.3" stroke="#c73fbe" stroke-width="1"/>
<line x1="816.5" y1="291.0" x2="816.5" y2="299.3" stroke="#c73fbe" stroke-width="1"/>
<line x1="828.0" y1="291.0" x2="828.0" y2="299.3" stroke="#c73fbe" stroke-width="1"/>
<line x1="876.0" y1="291.0" x2="876.0" y2="299.3" stroke="#c73fbe" stroke-width="1"/>
<line x1="907.0" y1="291.0" x2="907.0" y2="299.3" stroke="#c73fbe" stroke-width="1"/>
<line x1="302.5" y1="291.0" x2="302.5" y2="282.7" stroke="#c73fbe" stroke-width="1"/>
<line x1="817.0" y1="291.0" x2="817.0" y2="282.7" stroke="#c73fbe" stroke-width="1"/>
<line x1="353.0" y1="291.0" x2="353.0" y2="286.9" stroke="#c73fbe" stroke-width="1"/>
<polyline points="66.0,291.0 66.5,303.4 67.0,311.6 67.5,332.3 68.0,331.0" fill="none" stroke="#c73fbe" stroke-width="1.6"/>
<polyline points="259.0,291.0 259.0,322.0" fill="none" stroke="#c73fbe" stroke-width="2.0"/>
<polyline points="353.5,291.0 354.5,332.3 358.0,332.3 359.0,291.0" fill="none" stroke="#c73fbe" stroke-width="1.3"/>
<polyline points="961.0,291.0 961.0,332.3" fill="none" stroke="#c73fbe" stroke-width="1.6"/>
<polyline points="999.0,291.0 999.5,324.0" fill="none" stroke="#c73fbe" stroke-width="1.8"/>
<circle cx="51.0" cy="286.9" r="1.6" fill="#b43aac"/>
<circle cx="52.0" cy="295.1" r="1.6" fill="#b43aac"/>
<circle cx="55.8" cy="286.9" r="1.6" fill="#b43aac"/>
<circle cx="57.2" cy="295.1" r="1.6" fill="#b43aac"/>
<circle cx="63.0" cy="286.9" r="1.6" fill="#b43aac"/>
<circle cx="62.0" cy="295.1" r="1.6" fill="#b43aac"/>
<circle cx="71.0" cy="286.9" r="1.6" fill="#b43aac"/>
<circle cx="69.5" cy="295.1" r="1.6" fill="#b43aac"/>
<circle cx="75.8" cy="286.9" r="1.6" fill="#b43aac"/>
<circle cx="74.2" cy="295.1" r="1.6" fill="#b43aac"/>
<circle cx="98.0" cy="286.9" r="1.6" fill="#b43aac"/>
<circle cx="96.5" cy="295.1" r="1.6" fill="#b43aac"/>
<circle cx="102.8" cy="286.9" r="1.6" fill="#b43aac"/>
<circle cx="103.8" cy="295.1" r="1.6" fill="#b43aac"/>
<circle cx="107.5" cy="286.9" r="1.6" fill="#b43aac"/>
<circle cx="106.0" cy="295.1" r="1.6" fill="#b43aac"/>
<circle cx="112.2" cy="286.9" r="1.6" fill="#b43aac"/>
<circle cx="113.8" cy="295.1" r="1.6" fill="#b43aac"/>
<circle cx="117.0" cy="286.9" r="1.6" fill="#b43aac"/>
<circle cx="115.5" cy="295.1" r="1.6" fill="#b43aac"/>
<circle cx="121.8" cy="286.9" r="1.6" fill="#b43aac"/>
<circle cx="120.2" cy="295.1" r="1.6" fill="#b43aac"/>
<circle cx="126.5" cy="286.9" r="1.6" fill="#b43aac"/>
<circle cx="125.5" cy="295.1" r="1.6" fill="#b43aac"/>
<circle cx="155.0" cy="286.9" r="1.6" fill="#b43aac"/>
<circle cx="154.0" cy="295.1" r="1.6" fill="#b43aac"/>
<circle cx="159.8" cy="286.9" r="1.6" fill="#b43aac"/>
<circle cx="158.2" cy="295.1" r="1.6" fill="#b43aac"/>
<circle cx="164.5" cy="286.9" r="1.6" fill="#b43aac"/>
<circle cx="166.0" cy="295.1" r="1.6" fill="#b43aac"/>
<circle cx="169.2" cy="286.9" r="1.6" fill="#b43aac"/>
<circle cx="167.8" cy="295.1" r="1.6" fill="#b43aac"/>
<circle cx="174.0" cy="286.9" r="1.6" fill="#b43aac"/>
<circle cx="173.0" cy="295.1" r="1.6" fill="#b43aac"/>
<circle cx="178.8" cy="286.9" r="1.6" fill="#b43aac"/>
<circle cx="177.2" cy="295.1" r="1.6" fill="#b43aac"/>
<circle cx="183.5" cy="286.9" r="1.6" fill="#b43aac"/>
<circle cx="182.0" cy="295.1" r="1.6" fill="#b43aac"/>
<circle cx="188.2" cy="286.9" r="1.6" fill="#b43aac"/>
<circle cx="189.8" cy="295.1" r="1.6" fill="#b43aac"/>
<circle cx="193.0" cy="286.9" r="1.6" fill="#b43aac"/>
<circle cx="191.5" cy="295.1" r="1.6" fill="#b43aac"/>
<circle cx="197.8" cy="286.9" r="1.6" fill="#b43aac"/>
<circle cx="196.8" cy="295.1" r="1.6" fill="#b43aac"/>
<circle cx="202.5" cy="286.9" r="1.6" fill="#b43aac"/>
<circle cx="201.0" cy="295.1" r="1.6" fill="#b43aac"/>
<circle cx="225.0" cy="286.9" r="1.6" fill="#b43aac"/>
<circle cx="226.5" cy="295.1" r="1.6" fill="#b43aac"/>
<circle cx="229.8" cy="286.9" r="1.6" fill="#b43aac"/>
<circle cx="228.2" cy="295.1" r="1.6" fill="#b43aac"/>
<circle cx="234.5" cy="286.9" r="1.6" fill="#b43aac"/>
<circle cx="236.0" cy="295.1" r="1.6" fill="#b43aac"/>
<circle cx="239.2" cy="286.9" r="1.6" fill="#b43aac"/>
<circle cx="240.2" cy="295.1" r="1.6" fill="#b43aac"/>
<circle cx="244.0" cy="286.9" r="1.6" fill="#b43aac"/>
<circle cx="243.0" cy="295.1" r="1.6" fill="#b43aac"/>
<circle cx="248.8" cy="286.9" r="1.6" fill="#b43aac"/>
<circle cx="250.2" cy="295.1" r="1.6" fill="#b43aac"/>
<circle cx="253.5" cy="286.9" r="1.6" fill="#b43aac"/>
<circle cx="252.0" cy="295.1" r="1.6" fill="#b43aac"/>
<circle cx="258.2" cy="286.9" r="1.6" fill="#b43aac"/>
<circle cx="259.2" cy="295.1" r="1.6" fill="#b43aac"/>
<circle cx="263.0" cy="286.9" r="1.6" fill="#b43aac"/>
<circle cx="264.5" cy="295.1" r="1.6" fill="#b43aac"/>
<circle cx="282.0" cy="286.9" r="1.6" fill="#b43aac"/>
<circle cx="280.5" cy="295.1" r="1.6" fill="#b43aac"/>
<circle cx="317.0" cy="286.9" r="1.6" fill="#b43aac"/>
<circle cx="318.5" cy="295.1" r="1.6" fill="#b43aac"/>
<circle cx="321.8" cy="286.9" r="1.6" fill="#b43aac"/>
<circle cx="322.8" cy="295.1" r="1.6" fill="#b43aac"/>
<circle cx="326.5" cy="286.9" r="1.6" fill="#b43aac"/>
<circle cx="325.0" cy="295.1" r="1.6" fill="#b43aac"/>
<circle cx="331.2" cy="286.9" r="1.6" fill="#b43aac"/>
<circle cx="329.8" cy="295.1" r="1.6" fill="#b43aac"/>
<circle cx="336.0" cy="286.9" r="1.6" fill="#b43aac"/>
<circle cx="334.5" cy="295.1" r="1.6" fill="#b43aac"/>
<circle cx="359.0" cy="286.9" r="1.6" fill="#b43aac"/>
<circle cx="360.5" cy="295.1" r="1.6" fill="#b43aac"/>
<circle cx="363.8" cy="286.9" r="1.6" fill="#b43aac"/>
<circle cx="362.8" cy="295.1" r="1.6" fill="#b43aac"/>
<circle cx="375.0" cy="286.9" r="1.6" fill="#b43aac"/>
<circle cx="374.0" cy="295.1" r="1.6" fill="#b43aac"/>
<circle cx="379.8" cy="286.9" r="1.6" fill="#b43aac"/>
<circle cx="380.8" cy="295.1" r="1.6" fill="#b43aac"/>
<circle cx="384.5" cy="286.9" r="1.6" fill="#b43aac"/>
<circle cx="383.5" cy="295.1" r="1.6" fill="#b43aac"/>
<circle cx="389.2" cy="286.9" r="1.6" fill="#b43aac"/>
<circle cx="388.2" cy="295.1" r="1.6" fill="#b43aac"/>
<circle cx="398.0" cy="286.9" r="1.6" fill="#b43aac"/>
<circle cx="399.0" cy="295.1" r="1.6" fill="#b43aac"/>
<circle cx="406.0" cy="286.9" r="1.6" fill="#b43aac"/>
<circle cx="407.0" cy="295.1" r="1.6" fill="#b43aac"/>
<circle cx="410.8" cy="286.9" r="1.6" fill="#b43aac"/>
<circle cx="412.2" cy="295.1" r="1.6" fill="#b43aac"/>
<circle cx="420.0" cy="286.9" r="1.6" fill="#b43aac"/>
<circle cx="421.5" cy="295.1" r="1.6" fill="#b43aac"/>
<circle cx="424.8" cy="286.9" r="1.6" fill="#b43aac"/>
<circle cx="426.2" cy="295.1" r="1.6" fill="#b43aac"/>
<circle cx="429.5" cy="286.9" r="1.6" fill="#b43aac"/>
<circle cx="428.0" cy="295.1" r="1.6" fill="#b43aac"/>
<circle cx="444.0" cy="286.9" r="1.6" fill="#b43aac"/>
<circle cx="445.0" cy="295.1" r="1.6" fill="#b43aac"/>
<circle cx="448.8" cy="286.9" r="1.6" fill="#b43aac"/>
<circle cx="447.8" cy="295.1" r="1.6" fill="#b43aac"/>
<circle cx="453.5" cy="286.9" r="1.6" fill="#b43aac"/>
<circle cx="454.5" cy="295.1" r="1.6" fill="#b43aac"/>
<circle cx="458.2" cy="286.9" r="1.6" fill="#b43aac"/>
<circle cx="457.2" cy="295.1" r="1.6" fill="#b43aac"/>
<circle cx="468.0" cy="286.9" r="1.6" fill="#b43aac"/>
<circle cx="469.0" cy="295.1" r="1.6" fill="#b43aac"/>
<circle cx="472.8" cy="286.9" r="1.6" fill="#b43aac"/>
<circle cx="471.2" cy="295.1" r="1.6" fill="#b43aac"/>
<circle cx="477.5" cy="286.9" r="1.6" fill="#b43aac"/>
<circle cx="476.0" cy="295.1" r="1.6" fill="#b43aac"/>
<circle cx="482.2" cy="286.9" r="1.6" fill="#b43aac"/>
<circle cx="481.2" cy="295.1" r="1.6" fill="#b43aac"/>
<circle cx="487.0" cy="286.9" r="1.6" fill="#b43aac"/>
<circle cx="488.5" cy="295.1" r="1.6" fill="#b43aac"/>
<circle cx="498.0" cy="286.9" r="1.6" fill="#b43aac"/>
<circle cx="499.0" cy="295.1" r="1.6" fill="#b43aac"/>
<circle cx="502.8" cy="286.9" r="1.6" fill="#b43aac"/>
<circle cx="504.2" cy="295.1" r="1.6" fill="#b43aac"/>
<circle cx="509.0" cy="286.9" r="1.6" fill="#b43aac"/>
<circle cx="508.0" cy="295.1" r="1.6" fill="#b43aac"/>
<circle cx="513.8" cy="286.9" r="1.6" fill="#b43aac"/>
<circle cx="512.8" cy="295.1" r="1.6" fill="#b43aac"/>
<circle cx="534.0" cy="286.9" r="1.6" fill="#b43aac"/>
<circle cx="532.5" cy="295.1" r="1.6" fill="#b43aac"/>
<circle cx="538.8" cy="286.9" r="1.6" fill="#b43aac"/>
<circle cx="537.2" cy="295.1" r="1.6" fill="#b43aac"/>
<circle cx="543.5" cy="286.9" r="1.6" fill="#b43aac"/>
<circle cx="544.5" cy="295.1" r="1.6" fill="#b43aac"/>
<circle cx="548.2" cy="286.9" r="1.6" fill="#b43aac"/>
<circle cx="549.2" cy="295.1" r="1.6" fill="#b43aac"/>
<circle cx="553.0" cy="286.9" r="1.6" fill="#b43aac"/>
<circle cx="554.0" cy="295.1" r="1.6" fill="#b43aac"/>
<circle cx="557.8" cy="286.9" r="1.6" fill="#b43aac"/>
<circle cx="556.8" cy="295.1" r="1.6" fill="#b43aac"/>
<circle cx="562.5" cy="286.9" r="1.6" fill="#b43aac"/>
<circle cx="561.5" cy="295.1" r="1.6" fill="#b43aac"/>
<circle cx="577.0" cy="286.9" r="1.6" fill="#b43aac"/>
<circle cx="575.5" cy="295.1" r="1.6" fill="#b43aac"/>
<circle cx="581.8" cy="286.9" r="1.6" fill="#b43aac"/>
<circle cx="580.2" cy="295.1" r="1.6" fill="#b43aac"/>
<circle cx="586.5" cy="286.9" r="1.6" fill="#b43aac"/>
<circle cx="587.5" cy="295.1" r="1.6" fill="#b43aac"/>
<circle cx="591.2" cy="286.9" r="1.6" fill="#b43aac"/>
<circle cx="590.2" cy="295.1" r="1.6" fill="#b43aac"/>
<circle cx="596.0" cy="286.9" r="1.6" fill="#b43aac"/>
<circle cx="594.5" cy="295.1" r="1.6" fill="#b43aac"/>
<circle cx="610.0" cy="286.9" r="1.6" fill="#b43aac"/>
<circle cx="608.5" cy="295.1" r="1.6" fill="#b43aac"/>
<circle cx="614.8" cy="286.9" r="1.6" fill="#b43aac"/>
<circle cx="615.8" cy="295.1" r="1.6" fill="#b43aac"/>
<circle cx="624.0" cy="286.9" r="1.6" fill="#b43aac"/>
<circle cx="623.0" cy="295.1" r="1.6" fill="#b43aac"/>
<circle cx="628.8" cy="286.9" r="1.6" fill="#b43aac"/>
<circle cx="629.8" cy="295.1" r="1.6" fill="#b43aac"/>
<circle cx="644.0" cy="286.9" r="1.6" fill="#b43aac"/>
<circle cx="643.0" cy="295.1" r="1.6" fill="#b43aac"/>
<circle cx="648.8" cy="286.9" r="1.6" fill="#b43aac"/>
<circle cx="649.8" cy="295.1" r="1.6" fill="#b43aac"/>
<circle cx="653.5" cy="286.9" r="1.6" fill="#b43aac"/>
<circle cx="652.0" cy="295.1" r="1.6" fill="#b43aac"/>
<circle cx="658.2" cy="286.9" r="1.6" fill="#b43aac"/>
<circle cx="657.2" cy="295.1" r="1.6" fill="#b43aac"/>
<circle cx="663.0" cy="286.9" r="1.6" fill="#b43aac"/>
<circle cx="664.0" cy="295.1" r="1.6" fill="#b43aac"/>
<circle cx="669.0" cy="286.9" r="1.6" fill="#b43aac"/>
<circle cx="670.5" cy="295.1" r="1.6" fill="#b43aac"/>
<circle cx="689.0" cy="286.9" r="1.6" fill="#b43aac"/>
<circle cx="687.5" cy="295.1" r="1.6" fill="#b43aac"/>
<circle cx="693.8" cy="286.9" r="1.6" fill="#b43aac"/>
<circle cx="692.8" cy="295.1" r="1.6" fill="#b43aac"/>
<circle cx="698.5" cy="286.9" r="1.6" fill="#b43aac"/>
<circle cx="697.0" cy="295.1" r="1.6" fill="#b43aac"/>
<circle cx="706.0" cy="286.9" r="1.6" fill="#b43aac"/>
<circle cx="707.5" cy="295.1" r="1.6" fill="#b43aac"/>
<circle cx="710.8" cy="286.9" r="1.6" fill="#b43aac"/>
<circle cx="711.8" cy="295.1" r="1.6" fill="#b43aac"/>
<circle cx="715.5" cy="286.9" r="1.6" fill="#b43aac"/>
<circle cx="717.0" cy="295.1" r="1.6" fill="#b43aac"/>
<circle cx="720.2" cy="286.9" r="1.6" fill="#b43aac"/>
<circle cx="721.8" cy="295.1" r="1.6" fill="#b43aac"/>
<circle cx="725.0" cy="286.9" r="1.6" fill="#b43aac"/>
<circle cx="724.0" cy="295.1" r="1.6" fill="#b43aac"/>
<circle cx="729.8" cy="286.9" r="1.6" fill="#b43aac"/>
<circle cx="728.8" cy="295.1" r="1.6" fill="#b43aac"/>
<circle cx="734.5" cy="286.9" r="1.6" fill="#b43aac"/>
<circle cx="733.5" cy="295.1" r="1.6" fill="#b43aac"/>
<circle cx="739.2" cy="286.9" r="1.6" fill="#b43aac"/>
<circle cx="737.8" cy="295.1" r="1.6" fill="#b43aac"/>
<circle cx="744.0" cy="286.9" r="1.6" fill="#b43aac"/>
<circle cx="745.5" cy="295.1" r="1.6" fill="#b43aac"/>
<circle cx="754.0" cy="286.9" r="1.6" fill="#b43aac"/>
<circle cx="753.0" cy="295.1" r="1.6" fill="#b43aac"/>
<circle cx="758.8" cy="286.9" r="1.6" fill="#b43aac"/>
<circle cx="757.8" cy="295.1" r="1.6" fill="#b43aac"/>
<circle cx="768.0" cy="286.9" r="1.6" fill="#b43aac"/>
<circle cx="769.0" cy="295.1" r="1.6" fill="#b43aac"/>
<circle cx="777.0" cy="286.9" r="1.6" fill="#b43aac"/>
<circle cx="778.5" cy="295.1" r="1.6" fill="#b43aac"/>
<circle cx="781.8" cy="286.9" r="1.6" fill="#b43aac"/>
<circle cx="780.8" cy="295.1" r="1.6" fill="#b43aac"/>
<circle cx="786.5" cy="286.9" r="1.6" fill="#b43aac"/>
<circle cx="787.5" cy="295.1" r="1.6" fill="#b43aac"/>
<circle cx="791.2" cy="286.9" r="1.6" fill="#b43aac"/>
<circle cx="790.2" cy="295.1" r="1.6" fill="#b43aac"/>
<circle cx="796.0" cy="286.9" r="1.6" fill="#b43aac"/>
<circle cx="797.0" cy="295.1" r="1.6" fill="#b43aac"/>
<circle cx="800.8" cy="286.9" r="1.6" fill="#b43aac"/>
<circle cx="799.8" cy="295.1" r="1.6" fill="#b43aac"/>
<circle cx="805.5" cy="286.9" r="1.6" fill="#b43aac"/>
<circle cx="807.0" cy="295.1" r="1.6" fill="#b43aac"/>
<circle cx="810.2" cy="286.9" r="1.6" fill="#b43aac"/>
<circle cx="811.8" cy="295.1" r="1.6" fill="#b43aac"/>
<circle cx="815.0" cy="286.9" r="1.6" fill="#b43aac"/>
<circle cx="813.5" cy="295.1" r="1.6" fill="#b43aac"/>
<circle cx="825.0" cy="286.9" r="1.6" fill="#b43aac"/>
<circle cx="826.5" cy="295.1" r="1.6" fill="#b43aac"/>
<circle cx="829.8" cy="286.9" r="1.6" fill="#b43aac"/>
<circle cx="831.2" cy="295.1" r="1.6" fill="#b43aac"/>
<circle cx="834.5" cy="286.9" r="1.6" fill="#b43aac"/>
<circle cx="836.0" cy="295.1" r="1.6" fill="#b43aac"/>
<circle cx="843.0" cy="286.9" r="1.6" fill="#b43aac"/>
<circle cx="844.5" cy="295.1" r="1.6" fill="#b43aac"/>
<circle cx="847.8" cy="286.9" r="1.6" fill="#b43aac"/>
<circle cx="846.2" cy="295.1" r="1.6" fill="#b43aac"/>
<circle cx="858.0" cy="286.9" r="1.6" fill="#b43aac"/>
<circle cx="857.0" cy="295.1" r="1.6" fill="#b43aac"/>
<circle cx="862.8" cy="286.9" r="1.6" fill="#b43aac"/>
<circle cx="864.2" cy="295.1" r="1.6" fill="#b43aac"/>
<circle cx="875.0" cy="286.9" r="1.6" fill="#b43aac"/>
<circle cx="876.0" cy="295.1" r="1.6" fill="#b43aac"/>
<circle cx="879.8" cy="286.9" r="1.6" fill="#b43aac"/>
<circle cx="880.8" cy="295.1" r="1.6" fill="#b43aac"/>
<circle cx="884.5" cy="286.9" r="1.6" fill="#b43aac"/>
<circle cx="883.0" cy="295.1" r="1.6" fill="#b43aac"/>
<circle cx="892.0" cy="286.9" r="1.6" fill="#b43aac"/>
<circle cx="893.5" cy="295.1" r="1.6" fill="#b43aac"/>
<circle cx="896.8" cy="286.9" r="1.6" fill="#b43aac"/>
<circle cx="895.8" cy="295.1" r="1.6" fill="#b43aac"/>
<circle cx="901.5" cy="286.9" r="1.6" fill="#b43aac"/>
<circle cx="902.5" cy="295.1" r="1.6" fill="#b43aac"/>
<circle cx="906.2" cy="286.9" r="1.6" fill="#b43aac"/>
<circle cx="907.2" cy="295.1" r="1.6" fill="#b43aac"/>
<circle cx="911.0" cy="286.9" r="1.6" fill="#b43aac"/>
<circle cx="912.5" cy="295.1" r="1.6" fill="#b43aac"/>
<circle cx="915.8" cy="286.9" r="1.6" fill="#b43aac"/>
<circle cx="914.2" cy="295.1" r="1.6" fill="#b43aac"/>
<circle cx="920.5" cy="286.9" r="1.6" fill="#b43aac"/>
<circle cx="919.5" cy="295.1" r="1.6" fill="#b43aac"/>
<circle cx="925.2" cy="286.9" r="1.6" fill="#b43aac"/>
<circle cx="924.2" cy="295.1" r="1.6" fill="#b43aac"/>
<circle cx="935.0" cy="286.9" r="1.6" fill="#b43aac"/>
<circle cx="934.0" cy="295.1" r="1.6" fill="#b43aac"/>
<circle cx="945.0" cy="286.9" r="1.6" fill="#b43aac"/>
<circle cx="944.0" cy="295.1" r="1.6" fill="#b43aac"/>
<circle cx="949.8" cy="286.9" r="1.6" fill="#b43aac"/>
<circle cx="948.8" cy="295.1" r="1.6" fill="#b43aac"/>
<circle cx="954.5" cy="286.9" r="1.6" fill="#b43aac"/>
<circle cx="953.0" cy="295.1" r="1.6" fill="#b43aac"/>
<circle cx="963.0" cy="286.9" r="1.6" fill="#b43aac"/>
<circle cx="962.0" cy="295.1" r="1.6" fill="#b43aac"/>
<circle cx="967.8" cy="286.9" r="1.6" fill="#b43aac"/>
<circle cx="966.8" cy="295.1" r="1.6" fill="#b43aac"/>
<circle cx="972.5" cy="286.9" r="1.6" fill="#b43aac"/>
<circle cx="971.0" cy="295.1" r="1.6" fill="#b43aac"/>
<circle cx="979.0" cy="286.9" r="1.6" fill="#b43aac"/>
<circle cx="980.5" cy="295.1" r="1.6" fill="#b43aac"/>
<circle cx="983.8" cy="286.9" r="1.6" fill="#b43aac"/>
<circle cx="982.2" cy="295.1" r="1.6" fill="#b43aac"/>
<circle cx="988.5" cy="286.9" r="1.6" fill="#b43aac"/>
<circle cx="990.0" cy="295.1" r="1.6" fill="#b43aac"/>
<circle cx="994.0" cy="286.9" r="1.6" fill="#b43aac"/>
<circle cx="993.0" cy="295.1" r="1.6" fill="#b43aac"/>
<circle cx="998.8" cy="286.9" r="1.6" fill="#b43aac"/>
<circle cx="1000.2" cy="295.1" r="1.6" fill="#b43aac"/>
<circle cx="65.5" cy="299.3" r="1.6" fill="#b43aac"/>
<circle cx="94.5" cy="299.3" r="1.6" fill="#b43aac"/>
<circle cx="301.0" cy="299.3" r="1.6" fill="#b43aac"/>
<circle cx="352.5" cy="299.3" r="1.6" fill="#b43aac"/>
<circle cx="366.0" cy="299.3" r="1.6" fill="#b43aac"/>
<circle cx="509.0" cy="299.3" r="1.6" fill="#b43aac"/>
<circle cx="728.0" cy="299.3" r="1.6" fill="#b43aac"/>
<circle cx="759.0" cy="299.3" r="1.6" fill="#b43aac"/>
<circle cx="816.5" cy="299.3" r="1.6" fill="#b43aac"/>
<circle cx="828.0" cy="299.3" r="1.6" fill="#b43aac"/>
<circle cx="876.0" cy="299.3" r="1.6" fill="#b43aac"/>
<circle cx="907.0" cy="299.3" r="1.6" fill="#b43aac"/>
<circle cx="302.5" cy="282.7" r="1.6" fill="#b43aac"/>
<circle cx="817.0" cy="282.7" r="1.6" fill="#b43aac"/>
<circle cx="353.0" cy="286.9" r="1.6" fill="#b43aac"/>
<circle cx="66.5" cy="298.0" r="1.6" fill="#b43aac"/>
<circle cx="67.2" cy="310.4" r="1.6" fill="#b43aac"/>
<circle cx="67.6" cy="332.3" r="1.6" fill="#b43aac"/>
<circle cx="259.0" cy="340.6" r="1.6" fill="#b43aac"/>
<circle cx="355.0" cy="332.3" r="1.6" fill="#b43aac"/>
<circle cx="358.0" cy="332.3" r="1.6" fill="#b43aac"/>
<circle cx="961.0" cy="332.3" r="1.6" fill="#b43aac"/>
<circle cx="961.5" cy="303.4" r="1.6" fill="#b43aac"/>
<circle cx="999.5" cy="324.0" r="1.6" fill="#b43aac"/>
<circle cx="94.4" cy="361.0" r="1.4" fill="#f5843c"/>
<circle cx="223.4" cy="361.0" r="1.4" fill="#f5843c"/>
<circle cx="984.8" cy="361.0" r="1.4" fill="#f5843c"/>
<circle cx="68" cy="361.0" r="5" fill="#f59a9a" fill-opacity="0.65"/>
<circle cx="68" cy="361.0" r="2.2" fill="#d8323c"/>
<circle cx="259" cy="361.0" r="5" fill="#f59a9a" fill-opacity="0.65"/>
<circle cx="259" cy="361.0" r="2.2" fill="#d8323c"/>
<circle cx="961.4" cy="361.0" r="5" fill="#f59a9a" fill-opacity="0.65"/>
<circle cx="961.4" cy="361.0" r="2.2" fill="#d8323c"/>
<circle cx="999" cy="361.0" r="5" fill="#f59a9a" fill-opacity="0.65"/>
<circle cx="999" cy="361.0" r="2.2" fill="#d8323c"/>
<rect x="59" y="482.2" width="934" height="10.4" fill="url(#sg)"/>
<rect x="50.5" y="479.8" width="16.5" height="15.4" rx="2" ry="2" fill="url(#gg)" stroke="#b4b4b4" stroke-width="1"/>
<line x1="56.5" y1="484.3" x2="56.5" y2="490.6" stroke="#5a5a5a" stroke-width="1"/>
<line x1="58.8" y1="484.3" x2="58.8" y2="490.6" stroke="#5a5a5a" stroke-width="1"/>
<line x1="61.1" y1="484.3" x2="61.1" y2="490.6" stroke="#5a5a5a" stroke-width="1"/>
<rect x="984.0" y="479.8" width="16.5" height="15.4" rx="2" ry="2" fill="url(#gg)" stroke="#b4b4b4" stroke-width="1"/>
<line x1="990.0" y1="484.3" x2="990.0" y2="490.6" stroke="#5a5a5a" stroke-width="1"/>
<line x1="992.3" y1="484.3" x2="992.3" y2="490.6" stroke="#5a5a5a" stroke-width="1"/>
<line x1="994.6" y1="484.3" x2="994.6" y2="490.6" stroke="#5a5a5a" stroke-width="1"/>
<line x1="365.2" y1="507.9" x2="378.0" y2="507.9" stroke="#c73fbe" stroke-width="1.8"/>
<circle cx="371.59999999999997" cy="507.9" r="2.1" fill="#fff" stroke="#c73fbe" stroke-width="1.3"/>
<text x="386" y="511.2" class="lg" letter-spacing="-0.9">FPS</text>
<line x1="418.2" y1="507.9" x2="431.0" y2="507.9" stroke="#f5843c" stroke-width="1.8"/>
<circle cx="424.59999999999997" cy="507.9" r="2.1" fill="#fff" stroke="#f5843c" stroke-width="1.3"/>
<text x="439" y="511.2" class="lg" letter-spacing="0">Jank</text>
<line x1="476" y1="507.9" x2="488.8" y2="507.9" stroke="#e8453c" stroke-width="1.8"/>
<text x="497" y="511.2" class="lg" letter-spacing="0">BigJank</text>
<line x1="549" y1="507.9" x2="561.8" y2="507.9" stroke="#5b8fe6" stroke-width="1.8"/>
<text x="570" y="511.2" class="lg" letter-spacing="0">Stutter</text>
<line x1="618" y1="507.9" x2="630.8" y2="507.9" stroke="#2fc6cf" stroke-width="1.8"/>
<text x="639" y="511.2" class="lg" letter-spacing="0">InterFrame</text>
</svg>
</body>
</html>
